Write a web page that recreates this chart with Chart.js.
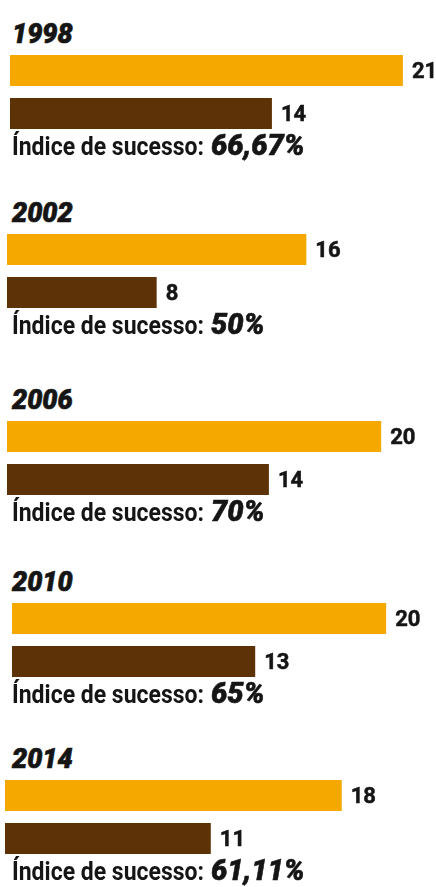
<!DOCTYPE html>
<html>
<head>
    <title>Índice de sucesso</title>
    <script src="https://cdn.jsdelivr.net/npm/chart.js"></script>
    <style>
        body { margin: 0; width: 436px; height: 887px; overflow: hidden; background: #fff; position: relative; font-family: Roboto, "Noto Sans", sans-serif; color: #151515; }
        .year { position: absolute; left: 12px; font-size: 27px; line-height: 27px; font-weight: 900; font-style: italic; -webkit-text-stroke: 0.7px #151515; }
        .rate { position: absolute; left: 12px; line-height: 32px; white-space: nowrap; }
        .rate .lbl { display: inline-block; font-size: 25px; font-weight: 700; transform: scaleX(0.92); transform-origin: 0 50%; }
        .rate .pct { font-size: 29px; font-weight: 900; font-style: italic; -webkit-text-stroke: 0.6px #151515; }
        canvas { position: absolute; }
    </style>
</head>
<body>
    <script>
        // values
        const years = ['1998', '2002', '2006', '2010', '2014'];
        const totals = [21, 16, 20, 20, 18];
        const wins = [14, 8, 14, 13, 11];
        const successRates = ['66,67%', '50%', '70%', '65%', '61,11%'];

        // layout of each block (px)
        const barTops = [55, 234, 421, 603, 780];
        const barLefts = [9.5, 7, 7, 12, 5];

        const orange = '#F5A800';
        const brown = '#5C3206';

        const valueLabels = {
            id: 'valueLabels',
            afterDatasetsDraw(chart) {
                const ctx = chart.ctx;
                const meta = chart.getDatasetMeta(0);
                ctx.save();
                ctx.font = '700 22px Roboto, "Noto Sans", sans-serif';
                ctx.fillStyle = '#151515';
                ctx.strokeStyle = '#151515';
                ctx.lineWidth = 0.5;
                ctx.textBaseline = 'middle';
                meta.data.forEach((bar, i) => {
                    const v = String(chart.data.datasets[0].data[i]);
                    ctx.fillText(v, bar.x + 9, bar.y + 2);
                    ctx.strokeText(v, bar.x + 9, bar.y + 2);
                });
                ctx.restore();
            }
        };

        years.forEach((year, i) => {
            const top = barTops[i];

            const title = document.createElement('div');
            title.className = 'year';
            title.style.top = (top - 34) + 'px';
            title.textContent = year;
            document.body.appendChild(title);

            const canvas = document.createElement('canvas');
            canvas.style.left = barLefts[i] + 'px';
            canvas.style.top = (top - 6) + 'px';
            canvas.style.width = '449px';
            canvas.style.height = '86px';
            canvas.width = 449;
            canvas.height = 86;
            document.body.appendChild(canvas);

            const rate = document.createElement('div');
            rate.className = 'rate';
            rate.style.top = (top + 74) + 'px';
            const lbl = document.createElement('span');
            lbl.className = 'lbl';
            lbl.textContent = 'Índice de sucesso:';
            const pct = document.createElement('span');
            pct.className = 'pct';
            pct.textContent = successRates[i];
            rate.appendChild(lbl);
            rate.appendChild(pct);
            document.body.appendChild(rate);
            // pull the value in to sit after the narrowed label
            lbl.style.marginRight = (-lbl.offsetWidth * 0.08 + 7) + 'px';

            new Chart(canvas, {
                type: 'bar',
                data: {
                    labels: ['total', 'vitórias'],
                    datasets: [{
                        data: [totals[i], wins[i]],
                        backgroundColor: [orange, brown],
                        borderWidth: 0,
                        barPercentage: 31 / 43,
                        categoryPercentage: 1
                    }]
                },
                options: {
                    indexAxis: 'y',
                    responsive: false,
                    animation: false,
                    layout: { padding: 0 },
                    plugins: { legend: { display: false }, tooltip: { enabled: false } },
                    scales: {
                        x: { display: false, min: 0, max: 24 },
                        y: { display: false }
                    }
                },
                plugins: [valueLabels]
            });
        });
    </script>
</body>
</html>
